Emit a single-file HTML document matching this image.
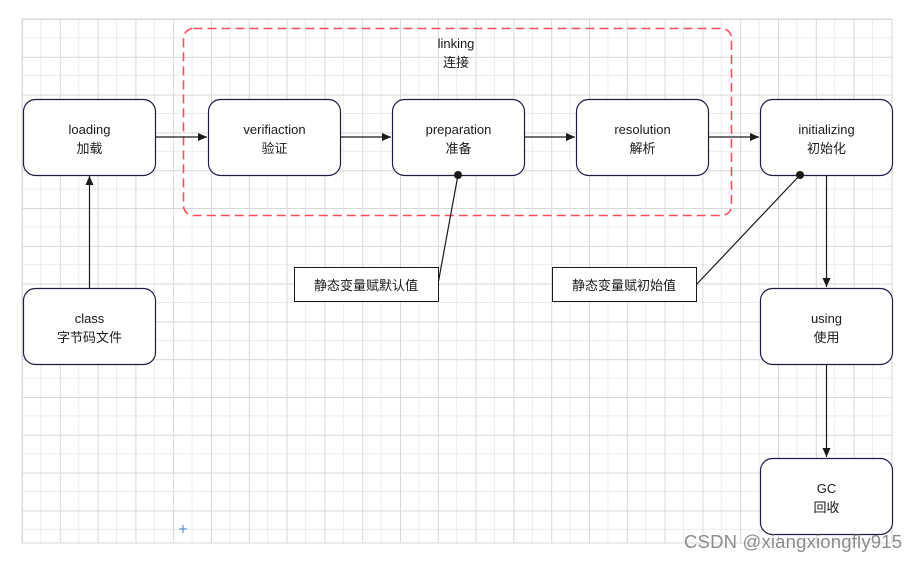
<!DOCTYPE html>
<html><head><meta charset="utf-8"><style>
html,body{margin:0;padding:0;background:#fff;width:918px;height:561px;overflow:hidden}
svg text{font-family:"Liberation Sans","Noto Sans CJK SC",sans-serif;font-size:13px;fill:#1a1a1a}
</style></head><body>
<svg width="918" height="561" viewBox="0 0 918 561" xmlns="http://www.w3.org/2000/svg">
<defs>
<pattern id="g" x="22" y="19" width="37.8" height="37.8" patternUnits="userSpaceOnUse">
<path d="M18.9 0V37.8M0 18.9H37.8" stroke="#ececec" stroke-width="1" fill="none"/>
<path d="M0.5 0V37.8M0 0.5H37.8" stroke="#d8d8d8" stroke-width="1" fill="none"/>
</pattern>
<marker id="a" markerWidth="10" markerHeight="10" refX="9" refY="5" orient="auto" markerUnits="userSpaceOnUse"><path d="M0 1L9 5L0 9Z" fill="#1a1a1a"/></marker>
</defs>
<rect x="22" y="19" width="870" height="524" fill="url(#g)" stroke="#d8d8d8"/>
<rect x="183.5" y="28.5" width="548" height="187" rx="10" fill="none" stroke="#ff4d5a" stroke-width="1.6" stroke-dasharray="9,5"/>
<text x="456" y="48" text-anchor="middle">linking</text>
<text x="456" y="67" text-anchor="middle">连接</text>
<g fill="#fff" stroke="#1b1f45" stroke-width="1.2">
<rect x="23.5" y="99.5" width="132" height="76" rx="12"/>
<rect x="208.5" y="99.5" width="132" height="76" rx="12"/>
<rect x="392.5" y="99.5" width="132" height="76" rx="12"/>
<rect x="576.5" y="99.5" width="132" height="76" rx="12"/>
<rect x="760.5" y="99.5" width="132" height="76" rx="12"/>
<rect x="23.5" y="288.5" width="132" height="76" rx="12"/>
<rect x="760.5" y="288.5" width="132" height="76" rx="12"/>
<rect x="760.5" y="458.5" width="132" height="76" rx="12"/>
</g>
<g stroke="#1a1a1a" stroke-width="1.2" fill="none">
<line x1="156" y1="137" x2="207" y2="137" marker-end="url(#a)"/>
<line x1="341" y1="137" x2="391" y2="137" marker-end="url(#a)"/>
<line x1="525" y1="137" x2="575" y2="137" marker-end="url(#a)"/>
<line x1="709" y1="137" x2="759" y2="137" marker-end="url(#a)"/>
<line x1="89.5" y1="288" x2="89.5" y2="176" marker-end="url(#a)"/>
<line x1="826.5" y1="176" x2="826.5" y2="287" marker-end="url(#a)"/>
<line x1="826.5" y1="365" x2="826.5" y2="457" marker-end="url(#a)"/>
<line x1="438" y1="284" x2="458" y2="175"/>
<line x1="696" y1="285" x2="800" y2="175"/>
</g>
<circle cx="458" cy="175" r="4" fill="#1a1a1a"/>
<circle cx="800" cy="175" r="4" fill="#1a1a1a"/>
<rect x="294.5" y="267.5" width="144" height="34" fill="#fff" stroke="#1a1a1a"/>
<rect x="552.5" y="267.5" width="144" height="34" fill="#fff" stroke="#1a1a1a"/>
<text x="366" y="290" text-anchor="middle">静态变量赋默认值</text>
<text x="624" y="290" text-anchor="middle">静态变量赋初始值</text>
<g text-anchor="middle">
<text x="89.5" y="134">loading</text><text x="89.5" y="153">加载</text>
<text x="274.5" y="134">verifiaction</text><text x="274.5" y="153">验证</text>
<text x="458.5" y="134">preparation</text><text x="458.5" y="153">准备</text>
<text x="642.5" y="134">resolution</text><text x="642.5" y="153">解析</text>
<text x="826.5" y="134">initializing</text><text x="826.5" y="153">初始化</text>
<text x="89.5" y="323">class</text><text x="89.5" y="342">字节码文件</text>
<text x="826.5" y="323">using</text><text x="826.5" y="342">使用</text>
<text x="826.5" y="493">GC</text><text x="826.5" y="512">回收</text>
</g>
<path d="M183 525V533M179 529H187" stroke="#3a7bd5" stroke-width="1"/>
<text x="902" y="548" text-anchor="end" textLength="218" style="font-size:18.5px;fill:#8c8c8c">CSDN @xiangxiongfly915</text>
</svg>
</body></html>
